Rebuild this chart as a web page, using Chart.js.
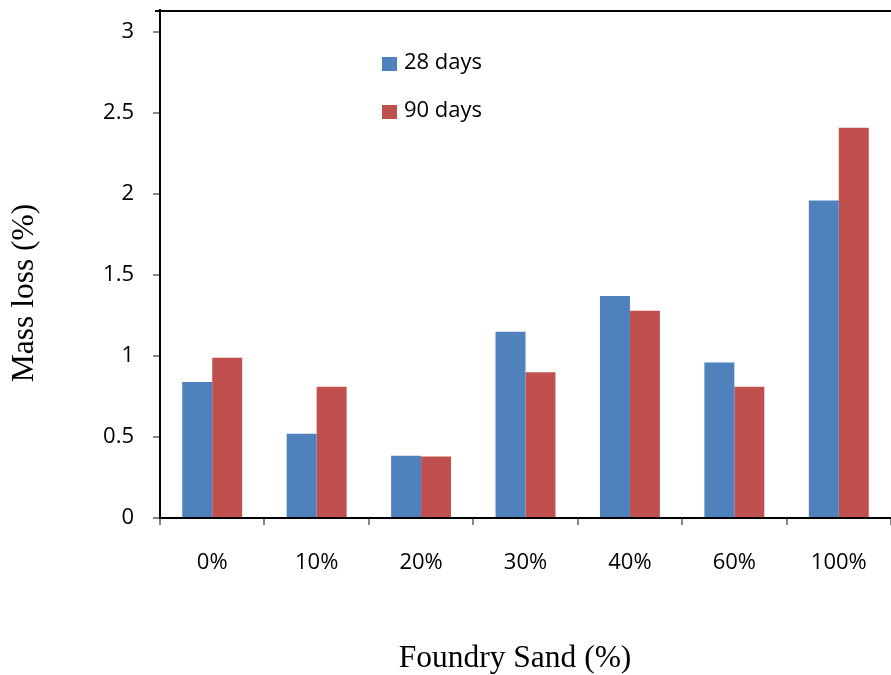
<!DOCTYPE html>
<html>
<head>
<meta charset="utf-8">
<script src="https://cdn.jsdelivr.net/npm/chart.js@4.4.1/dist/chart.umd.min.js"></script>
<style>
  html, body { margin: 0; padding: 0; background: #fff; }
  #wrap { width: 891px; height: 675px; }
</style>
</head>
<body>
<div id="wrap"><canvas id="c" width="891" height="675"></canvas></div>
<script>
// Mass loss per foundry sand replacement level
const categories = ['0%', '10%', '20%', '30%', '40%', '60%', '100%'];
const days28 = [0.84, 0.52, 0.385, 1.15, 1.37, 0.96, 1.96];
const days90 = [0.99, 0.81, 0.38, 0.90, 1.28, 0.81, 2.41];
const seriesLabels = ['28 days', '90 days'];
const yTicks = [0, 0.5, 1, 1.5, 2, 2.5, 3];

const BLUE = '#4F81BD';
const RED = '#C0504D';
const TICK_FONT = { family: '"Open Sans", sans-serif', size: 22 };
const SERIF = '"Liberation Serif", "Times New Roman", serif';

// Frame line along the top of the plot area, axis titles and the inline legend
const decorations = {
  id: 'decorations',
  afterDraw(chart) {
    const { ctx, chartArea } = chart;
    ctx.save();
    ctx.strokeStyle = '#000';
    ctx.lineWidth = 2;
    ctx.beginPath();
    ctx.moveTo(chartArea.left - 5, chartArea.top);
    ctx.lineTo(chartArea.right, chartArea.top);
    ctx.moveTo(chartArea.left, chartArea.top - 2);
    ctx.lineTo(chartArea.left, chartArea.top + 2);
    ctx.stroke();

    ctx.fillStyle = '#000';
    ctx.font = '31.5px ' + SERIF;
    ctx.textAlign = 'center';
    ctx.textBaseline = 'middle';
    ctx.fillText('Foundry Sand (%)', 515, 659);

    ctx.save();
    ctx.translate(25, 293);
    ctx.rotate(-Math.PI / 2);
    ctx.fillText('Mass loss (%)', 0, 0);
    ctx.restore();

    ctx.font = '22px "Open Sans", sans-serif';
    ctx.textAlign = 'left';
    chart.data.datasets.forEach((ds, i) => {
      const y = 57 + i * 48;
      ctx.fillStyle = ds.backgroundColor;
      ctx.fillRect(382, y, 15, 14);
      ctx.fillStyle = '#000';
      ctx.fillText(ds.label, 404, y + 6);
    });
    ctx.restore();
  }
};

new Chart(document.getElementById('c'), {
  type: 'bar',
  data: {
    labels: categories,
    datasets: [
      { label: seriesLabels[0], data: days28, backgroundColor: BLUE },
      { label: seriesLabels[1], data: days90, backgroundColor: RED }
    ]
  },
  options: {
    responsive: false,
    animation: false,
    devicePixelRatio: 1,
    layout: { padding: { top: 11, left: 0, right: 0, bottom: 0 } },
    datasets: { bar: { categoryPercentage: 0.574, barPercentage: 1.0 } },
    plugins: { legend: { display: false }, tooltip: { enabled: false } },
    scales: {
      x: {
        offset: true,
        grid: {
          display: true, drawOnChartArea: false, drawTicks: true,
          tickLength: 7, color: '#888', lineWidth: 2, offset: true
        },
        border: { display: true, color: '#000', width: 2 },
        ticks: { color: '#000', font: TICK_FONT, padding: 25 },
        afterFit(scale) {
          scale.height = 157;
          scale.paddingLeft = 0; scale.paddingRight = 0;
        }
      },
      y: {
        min: 0,
        max: 3.13,
        grid: {
          display: true, drawOnChartArea: false, drawTicks: true,
          tickLength: 7, color: '#888', lineWidth: 2
        },
        border: { display: true, color: '#000', width: 2 },
        afterBuildTicks(scale) { scale.ticks = yTicks.map(v => ({ value: v })); },
        ticks: { color: '#000', font: TICK_FONT, padding: 19, callback: v => String(v) },
        afterFit(scale) {
          scale.width = 160;
          scale.paddingTop = 0; scale.paddingBottom = 0;
        }
      }
    }
  },
  plugins: [decorations]
});
</script>
</body>
</html>
